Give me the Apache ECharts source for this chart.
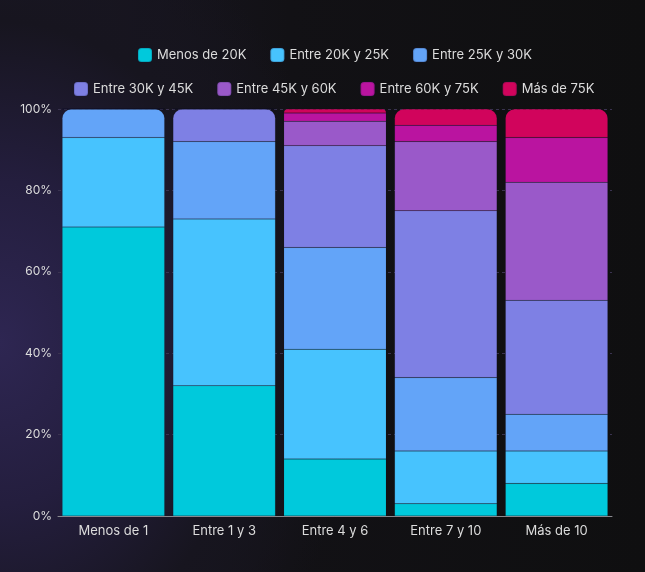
<!DOCTYPE html>
<html>
<head>
<meta charset="utf-8">
<script src="https://cdn.jsdelivr.net/npm/echarts@6/dist/echarts.min.js"></script>
<style>
html,body{margin:0;padding:0;width:645px;height:572px;overflow:hidden;}
body{background:
 radial-gradient(ellipse 360px 460px at 0% 60%, #2e2652 0%, #241e3e 35%, #17151f 70%, rgba(15,15,16,0) 100%),
 linear-gradient(90deg,#1b1828 0%,#121115 45%,#0f0f10 100%);}
#c{width:645px;height:572px;}
</style>
</head>
<body>
<div id="c"></div>
<script>
var categories = ['Menos de 1','Entre 1 y 3','Entre 4 y 6','Entre 7 y 10','Más de 10'];
var seriesNames = ['Menos de 20K','Entre 20K y 25K','Entre 25K y 30K','Entre 30K y 45K','Entre 45K y 60K','Entre 60K y 75K','Más de 75K'];
var menos20K = [71,32,14,3,8];
var entre20y25 = [22,41,27,13,8];
var entre25y30 = [7,19,25,18,9];
var entre30y45 = [0,8,25,41,28];
var entre45y60 = [0,0,6,17,29];
var entre60y75 = [0,0,2,4,11];
var mas75K = [0,0,1,4,7];
var yTicks = [0,20,40,60,80,100];

var colors = ['#00c9dc','#47c3fe','#63a4f8','#7e80e4','#9a59c9','#ba14a0','#d1045c'];
var allData = [menos20K,entre20y25,entre25y30,entre30y45,entre45y60,entre60y75,mas75K];

var topIdx = categories.map(function(_,c){
  var t=0; for(var s=0;s<allData.length;s++){ if(allData[s][c]>0) t=s; } return t;
});

var series = allData.map(function(arr,s){
  return {
    name: seriesNames[s],
    type:'bar',
    stack:'total',
    barCategoryGap:'7.5%',
    itemStyle:{color:colors[s], borderColor:'rgba(30,30,60,0.18)', borderWidth:0.5},
    emphasis:{disabled:true},
    data: arr.map(function(v,c){
      if(topIdx[c]===s) return {value:v, itemStyle:{borderRadius:[9,9,0,0]}};
      return v;
    })
  };
});

var textColor = '#dcdcdc';
var font = 'Inter, "Noto Sans", sans-serif';
var legendText = {color:textColor, fontSize:13, fontFamily:font};
var chart = echarts.init(document.getElementById('c'), null, {renderer:'canvas'});
chart.setOption({
  backgroundColor:'transparent',
  animation:false,
  color: colors,
  legend:[{
    data: seriesNames.slice(0,3),
    left:137, top:47, padding:0,
    itemWidth:14, itemHeight:14, itemGap:23,
    icon:'roundRect',
    textStyle:legendText
  },{
    data: seriesNames.slice(3),
    left:73, top:81, padding:0,
    itemWidth:14, itemHeight:14, itemGap:23,
    icon:'roundRect',
    textStyle:legendText
  }],
  grid:{left:58, right:33, top:109, bottom:56, containLabel:false},
  xAxis:{
    type:'category',
    data:categories,
    axisLine:{show:true, lineStyle:{color:'#8a8a8f', width:1}},
    axisTick:{show:false},
    axisLabel:{color:textColor, fontSize:13, fontFamily:font, margin:9}
  },
  yAxis:{
    type:'value',
    min:0, max:100, interval:20,
    axisLine:{show:false},
    axisTick:{show:false},
    axisLabel:{color:textColor, fontSize:12, fontFamily:font, margin:6,
      formatter:function(v){ return yTicks.indexOf(v)>=0 ? v+'%' : ''; }},
    splitLine:{show:true, lineStyle:{color:'#3a3350', type:[3,3], width:1}}
  },
  series: series
});
</script>
</body>
</html>
